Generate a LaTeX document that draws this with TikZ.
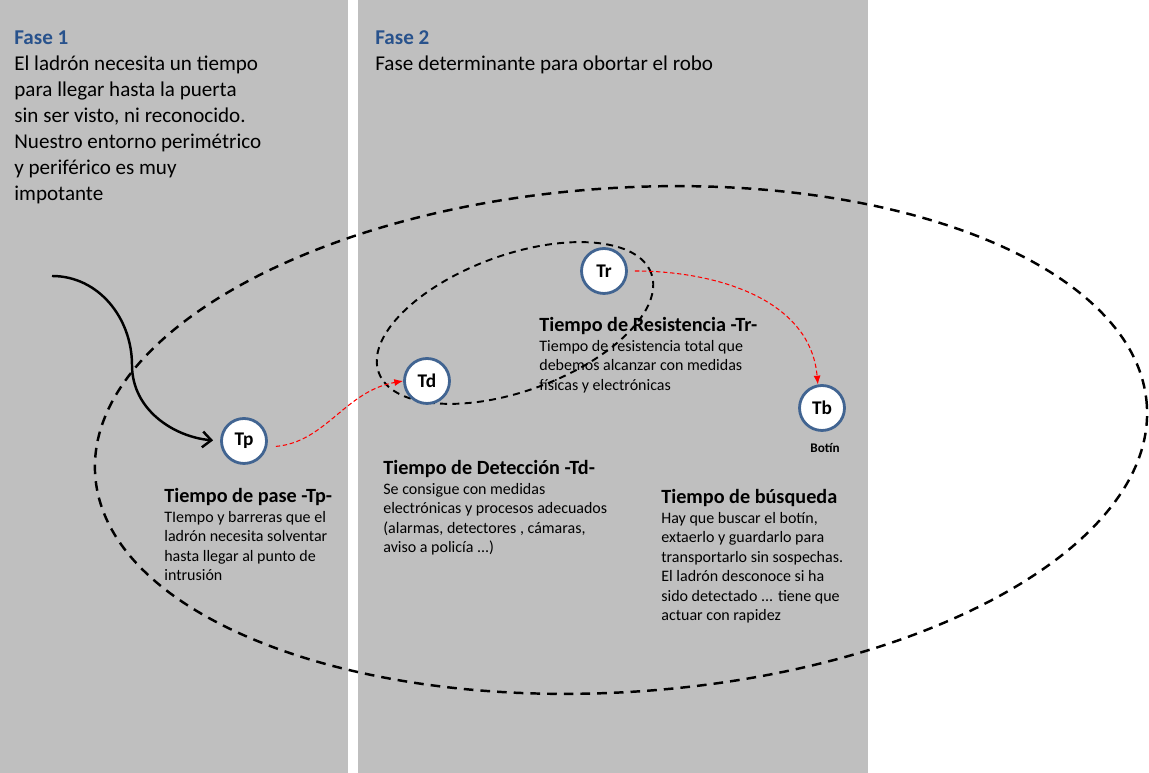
\documentclass[tikz,border=0pt]{standalone}
\usepackage{fontspec}
\setmainfont{Carlito}
\usetikzlibrary{arrows.meta,calc,positioning}
\definecolor{panelgray}{RGB}{191,191,191}
\definecolor{faseblue}{RGB}{40,82,140}
\definecolor{ringblue}{RGB}{65,100,145}
\tikzset{
  tnode/.style={circle,draw=ringblue,line width=1.6pt,fill=white,minimum size=0.9cm,inner sep=0pt,font=\fontsize{11}{13}\selectfont\bfseries},
  bigtext/.style={anchor=north west,align=left,inner sep=0pt,font=\fontsize{12}{14.8}\selectfont},
  smalltext/.style={anchor=north west,align=left,inner sep=0pt,font=\fontsize{9.1}{11.1}\selectfont},
  redlink/.style={red,dash pattern=on 2.5pt off 1.5pt,line width=0.6pt,-{Latex[length=5pt,width=4pt]}},
  zone/.style={line width=1.4pt,dash pattern=on 5.5pt off 4pt},
  innerzone/.style={line width=1.1pt,dash pattern=on 4pt off 3pt},
}
\newcommand{\hdr}[1]{{\fontsize{11.5}{11.1}\selectfont\bfseries #1}}

\begin{document}
\begin{tikzpicture}[x=0.02cm,y=0.02cm]
  \useasboundingbox (0,0) rectangle (1149,773);
  % background and the two phases
  \fill[white] (0,0) rectangle (1149,773);
  \fill[panelgray] (0,0) rectangle (348,773);
  \fill[panelgray] (358,0) rectangle (868,773);
  % phase texts
  \node[bigtext] (fase1) at (14,743) {{\color{faseblue}\bfseries Fase 1}\\
    El ladrón necesita un tiempo\\
    para llegar hasta la puerta\\
    sin ser visto, ni reconocido.\\
    Nuestro entorno perimétrico\\
    y periférico es muy\\
    impotante};
  \node[bigtext] (fase2) at (375,743) {{\color{faseblue}\bfseries Fase 2}\\
    Fase determinante para obortar el robo};
  % time texts
  \node[smalltext] (txtp) at (164,285) {\hdr{Tiempo de pase -Tp-}\\
    TIempo y barreras que el\\
    ladrón necesita solventar\\
    hasta llegar al punto de\\
    intrusión};
  \node[smalltext] (txtd) at (383,313) {\hdr{Tiempo de Detección -Td-}\\
    Se consigue con medidas\\
    electrónicas y procesos adecuados\\
    (alarmas, detectores , cámaras,\\
    aviso a policía ...)};
  \node[smalltext] (txtr) at (539,456) {\hdr{Tiempo de Resistencia -Tr-}\\
    Tiempo de resistencia total que\\
    debemos alcanzar con medidas\\
    físicas y electrónicas};
  \node[smalltext] (txtb) at (661,284) {\hdr{Tiempo de búsqueda}\\
    Hay que buscar el botín,\\
    extaerlo y guardarlo para\\
    transportarlo sin sospechas.\\
    El ladrón desconoce si ha\\
    sido detectado ... tiene que\\
    actuar con rapidez};
  % zones
  \draw[zone,rotate around={3.8:(621,333)}] (621,333) ellipse [x radius=527,y radius=252];
  \draw[innerzone,rotate around={20:(515,450)}] (515,450) ellipse [x radius=145,y radius=68];
  % times
  \node[tnode] (tp) at (244,332) {Tp};
  \node[tnode] (td) at (427,392) {Td};
  \node[tnode] (tr) at (604,502) {Tr};
  \node[tnode] (tb) at (822,365) {Tb};
  \node[font=\fontsize{7.5}{9}\selectfont\bfseries] (botin) at (825,325) {Botín};
  % entry of the thief
  \coordinate (start) at (52,497);
  \coordinate (bend) at (132,408);
  \draw[line width=1.4pt,-{Straight Barb[length=5pt,width=9pt]},shorten >=4pt] (start) to[out=0,in=90] (bend) to[out=-90,in=175] (tp.west);
  % red links
  \draw[redlink,shorten <=5pt] (tp.-15) to[out=5,in=190] (td.west);
  \draw[redlink,shorten <=4pt] (tr.east) to[out=0,in=95] (tb.100);
\end{tikzpicture}
\end{document}
